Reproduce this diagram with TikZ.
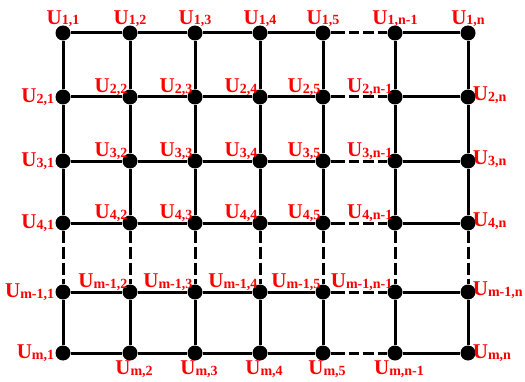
\documentclass[tikz,border=0pt]{standalone}
\usepackage{fontspec}
\setmainfont{Liberation Serif}
\usepackage{tikz}
\usetikzlibrary{positioning}
\tikzset{
  dot/.style={circle,fill=black,minimum size=15pt,inner sep=0pt},
  gl/.style={line width=3pt},
  hgap/.style={line width=3pt,dash pattern=on 14pt off 4pt on 10pt off 4pt on 11pt off 4pt on 20pt},
  vgap/.style={line width=3pt,dash pattern=on 12pt off 4pt},
  lbl/.style={text=red,font=\bfseries,inner sep=0pt}
}
\newcommand{\ulab}[1]{\fontsize{21}{21}\selectfont U\raisebox{-0.5pt}{\fontsize{14}{14}\selectfont #1}}

\begin{document}
\begin{tikzpicture}[x=1pt,y=1pt]
\useasboundingbox (0,0) rectangle (525,381);

% grid points
\foreach \r/\y in {1/348,2/284,3/220,4/158,5/89,6/28}
  \foreach \c/\x in {1/63,2/130,3/195,4/260,5/323,6/395,7/468}
    \node[dot] (p\r\c) at (\x,\y) {};

% rows
\foreach \r in {1,...,6}{
  \draw[gl] (p\r1)--(p\r2);
  \draw[gl] (p\r2)--(p\r3);
  \draw[gl] (p\r3)--(p\r4);
  \draw[gl] (p\r4)--(p\r5);
  \draw[hgap] (p\r5)--(p\r6);
  \draw[gl] (p\r6)--(p\r7);
}
% columns
\foreach \c in {1,...,7}{
  \draw[gl] (p1\c)--(p2\c);
  \draw[gl] (p2\c)--(p3\c);
  \draw[gl] (p3\c)--(p4\c);
  \draw[vgap] (p4\c)--(p5\c);
  \draw[gl] (p5\c)--(p6\c);
}

% labels
\foreach \c/\cs in {1/1,2/2,3/3,4/4,5/5,6/n-1,7/n}
  \node[lbl,above=-2pt of p1\c] (t1\c) {\ulab{1,\cs}};

\foreach \r/\rs in {2/2,3/3,4/4,5/m-1}{
  \node[lbl,left=1pt of p\r1] (t\r1) {\ulab{\rs,1}};
  \foreach \c/\cs in {2/2,3/3,4/4,5/5,6/n-1}
    \node[lbl,above left=-4pt and -3pt of p\r\c] (t\r\c) {\ulab{\rs,\cs}};
  \node[lbl,right=-3pt of p\r7,yshift=2pt] (t\r7) {\ulab{\rs,n}};
}

\node[lbl,left=1pt of p61] (t61) {\ulab{m,1}};
\foreach \c/\cs in {2/2,3/3,4/4,5/5,6/n-1}
  \node[lbl,below=0pt of p6\c,xshift=4pt] (t6\c) {\ulab{m,\cs}};
\node[lbl,right=-3pt of p67] (t67) {\ulab{m,n}};

\end{tikzpicture}
\end{document}
